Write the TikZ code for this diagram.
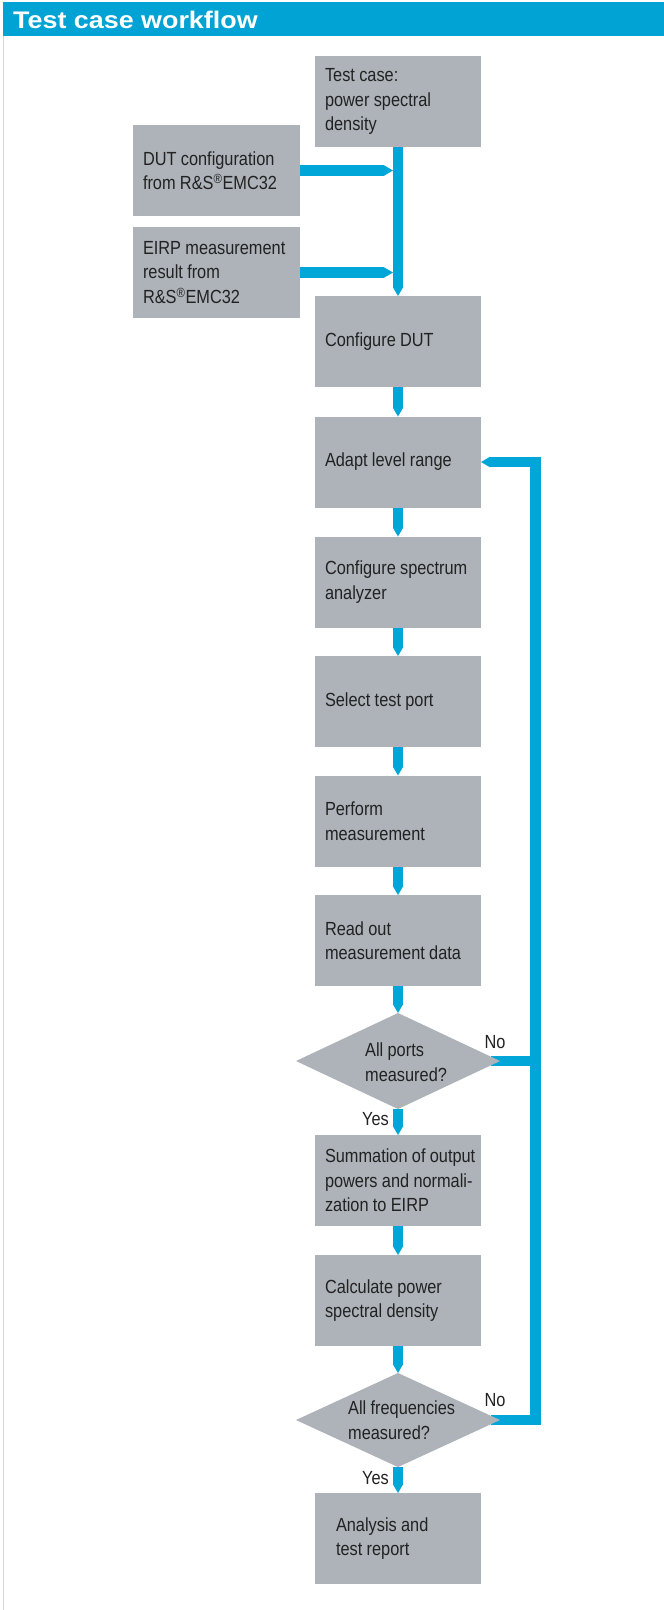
\documentclass[tikz,border=0pt]{standalone}
\usepackage{fontspec}
\setmainfont{Liberation Sans}[FakeStretch=0.86,WordSpace=0.75]
\newfontfamily\titlefont{Liberation Sans}[FakeStretch=1.12]
\usetikzlibrary{arrows.meta,shapes.geometric,backgrounds}
\definecolor{hdrblue}{HTML}{00A3D4}
\definecolor{flowblue}{HTML}{00A6D8}
\definecolor{boxgray}{HTML}{ADB3B9}
\definecolor{txtdark}{HTML}{222222}
\definecolor{rulegray}{HTML}{D4D6D8}
\newcommand\boxfont{\fontsize{19}{24.5}\selectfont}
\newcommand\regm{\textsuperscript{\textregistered}}
\newcommand\tln[1]{\mbox{\spaceskip=4.3pt\relax #1}}
\begin{document}
\begin{tikzpicture}[x=1pt,y=-1pt,
  box/.style={rectangle, fill=boxgray, minimum height=91pt, text width=146pt,
    inner xsep=10pt, inner ysep=0pt, align=left, font=\boxfont, text=txtdark, outer sep=0pt},
  sidebox/.style={box, text width=147pt},
  dia/.style={diamond, fill=boxgray, minimum width=204pt, minimum height=96pt, inner sep=0pt, outer sep=0pt},
  dtext/.style={align=left, font=\boxfont, text=txtdark, inner sep=0pt},
  lbl/.style={font=\boxfont, text=txtdark, inner sep=0pt},
  flowline/.style={line width=10.5pt, draw=flowblue, line join=miter},
  conn/.style={flowline, -{Triangle[width=10.5pt, length=9pt, line width=0pt]}}
]
\useasboundingbox (0,0) rectangle (664,1610);

% title
\node[anchor=base west, text=white, inner sep=0pt,
  font=\titlefont\bfseries\fontsize{24}{28}\selectfont] (title) at (13,28) {Test case workflow};

% main column
\node[box] (b1) at (398,101.5) {\tln{Test case:}\\\tln{power spectral}\\\tln{density}};
\node[sidebox] (dut) at (216.5,170.5) {\tln{DUT configuration}\\\tln{from R\&S\regm EMC32}};
\node[sidebox] (eirp) at (216.5,272.5) {\tln{EIRP measurement}\\\tln{result from}\\\tln{R\&S\regm EMC32}};
\node[box] (b2) at (398,341.5) {\tln{Configure DUT}};
\node[box] (b3) at (398,462) {\tln{Adapt level range}};
\node[box] (b4) at (398,582) {\tln{Configure spectrum}\\\tln{analyzer}};
\node[box] (b5) at (398,701.5) {\tln{Select test port}};
\node[box] (b6) at (398,821) {\tln{Perform}\\\tln{measurement}};
\node[box] (b7) at (398,940.5) {\tln{Read out}\\\tln{measurement data}};
\node[dia] (d1) at (398,1061) {};
\node[dtext, anchor=west] (d1t) at (365,1062) {\tln{All ports}\\\tln{measured?}};
\node[box] (b8) at (398,1180.5) {\tln{Summation of output}\\\tln{powers and normali-}\\\tln{zation to EIRP}};
\node[box] (b9) at (398,1300.5) {\tln{Calculate power}\\\tln{spectral density}};
\node[dia, minimum height=94pt] (d2) at (398,1420) {};
\node[dtext, anchor=west] (d2t) at (348,1420) {\tln{All frequencies}\\\tln{measured?}};
\node[box, text width=124pt, inner xsep=21pt] (b10) at (398,1538.5) {\tln{Analysis and}\\\tln{test report}};

\node[lbl, anchor=east] (yes1) at (389,1119) {Yes};
\node[lbl, anchor=east] (yes2) at (389,1478) {Yes};
\node[lbl] (no1) at (495,1042) {No};
\node[lbl] (no2) at (495,1400) {No};

\coordinate (j1) at ([xshift=-5pt]dut.east -| b1.south);
\coordinate (j2) at ([xshift=-5pt]eirp.east -| b1.south);
\coordinate (lt) at (535.5,462);
\coordinate (lb) at (d2.east -| lt);
\coordinate (lm) at (d1.east -| lt);

\begin{scope}[on background layer]
  \fill[white] (0,0) rectangle (664,1610);
  \fill[hdrblue] (3,2) rectangle (664,36);
  \draw[rulegray, line width=1.2pt] (3.6,36) -- (3.6,1610);
  \draw[conn] (b1.south) -- (b2.north);
  \draw[conn] (dut.east) -- (j1);
  \draw[conn] (eirp.east) -- (j2);
  \draw[conn] (b2.south) -- (b3.north);
  \draw[conn] (b3.south) -- (b4.north);
  \draw[conn] (b4.south) -- (b5.north);
  \draw[conn] (b5.south) -- (b6.north);
  \draw[conn] (b6.south) -- (b7.north);
  \draw[conn] (b7.south) -- (d1.north);
  \draw[conn] (d1.south) -- (b8.north);
  \draw[conn] (b8.south) -- (b9.north);
  \draw[conn] (b9.south) -- (d2.north);
  \draw[conn] (d2.south) -- (b10.north);
  \draw[flowline] ([xshift=-9pt]d1.east) -- (lm);
  \draw[conn] ([xshift=-9pt]d2.east) -- (lb) -- (lt) -- (b3.east);
\end{scope}
\end{tikzpicture}
\end{document}
